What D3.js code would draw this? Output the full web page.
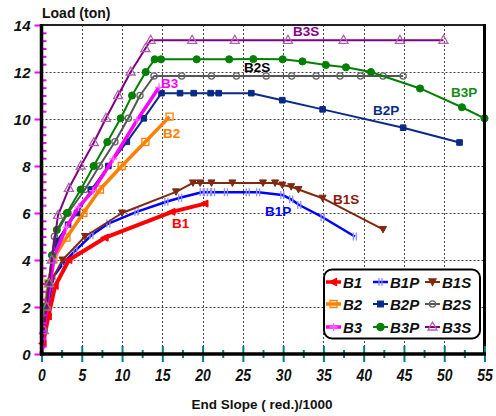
<!DOCTYPE html>
<html>
<head>
<meta charset="utf-8">
<script src="https://cdn.jsdelivr.net/npm/d3@7"></script>
<style>
  body { margin: 0; background: #fff; }
  svg { display: block; font-family: Arial, "Liberation Sans", sans-serif; }
</style>
</head>
<body>
<svg id="chart" width="496" height="416"></svg>
<script>
// Load (ton) against end slope (rad/1000) for the nine test beams
const seriesNames = ["B1", "B1P", "B1S", "B2", "B2P", "B2S", "B3", "B3P", "B3S"];

const B1 = [[0,0],[0.2,0.45],[0.85,1.6],[1.7,2.9],[3.4,4.0],[7.9,4.95],[16.2,6.05],[20.3,6.4]];
const B1P = [[0,0],[0.45,1.0],[0.9,2.2],[1.5,3.3],[2.8,3.9],[4.2,4.4],[6.2,5.05],[8.3,5.55],[11.8,6.05],[15.5,6.48],[17.2,6.65],[19.9,6.88],[20.4,6.88],[20.8,6.88],[21.3,6.88],[22.9,6.88],[25.6,6.88],[26.9,6.88],[29.9,6.77],[31.0,6.58],[32.0,6.34],[34.9,5.82],[38.9,5.0]];
const B1S = [[0,0],[0.6,1.9],[1.2,3.1],[2.6,4.0],[5.4,5.0],[10.0,6.0],[16.7,6.9],[18.8,7.28],[19.7,7.28],[21.1,7.28],[23.7,7.28],[27.5,7.28],[29.0,7.28],[29.9,7.19],[31.0,7.12],[31.9,7.0],[34.9,6.63],[42.4,5.3]];
const B2 = [[0,0],[0.43,2.0],[0.85,3.0],[1.47,4.05],[3.1,4.95],[5.2,6.0],[7.26,7.0],[9.96,8.0],[12.9,9.03],[15.9,10.1]];
const B2P = [[0,0],[0.5,2.0],[0.9,3.0],[1.9,4.8],[3.3,5.5],[4.4,6.0],[6.2,7.0],[8.3,8.0],[10.6,9.03],[12.7,10.03],[14.9,11.1],[17.2,11.1],[18.9,11.1],[21.0,11.1],[22.0,11.1],[26.05,11.1],[29.9,10.8],[34.9,10.41],[44.9,9.63],[51.9,9.0]];
const B2S = [[0,0],[0.35,1.0],[0.9,3.0],[1.6,5.0],[3.3,6.0],[5.4,7.0],[7.18,8.0],[9.12,9.03],[10.78,10.03],[12.23,11.0],[13.97,11.83],[17.4,11.83],[21.1,11.83],[24.2,11.83],[27.9,11.83],[31.06,11.83],[34.1,11.83],[37.06,11.83],[39.6,11.83],[42.4,11.83],[44.9,11.83]];
const B3 = [[0,0],[0.6,2.0],[1.1,3.0],[1.6,4.2],[3.1,5.4],[4.6,6.25],[6.4,6.95],[8.9,8.3],[11.86,9.95],[14.6,11.35]];
const B3P = [[0,0],[0.5,2.0],[0.9,3.0],[1.3,4.2],[1.9,5.28],[3.15,6.0],[4.87,7.0],[6.48,8.0],[8.17,9.02],[9.83,10.03],[11.24,11.0],[12.94,12.0],[14.05,12.54],[14.84,12.54],[19.27,12.54],[23.3,12.54],[26.3,12.55],[29.94,12.54],[32.4,12.45],[35.3,12.3],[37.8,12.2],[40.9,12.0],[47.0,11.3],[52.2,10.5],[55.0,10.03]];
const B3S = [[0,0],[0.3,1.0],[0.64,2.0],[0.97,3.0],[1.27,4.0],[2.05,5.9],[3.4,7.05],[4.87,8.0],[6.5,9.0],[8.0,10.03],[9.5,11.0],[11.07,12.0],[12.9,13.0],[13.55,13.35],[18.7,13.35],[24.0,13.35],[30.6,13.35],[37.5,13.35],[44.5,13.35],[49.9,13.35]];

const xTicks = d3.range(0, 55.01, 2.5);
const xLabels = [0, 5, 10, 15, 20, 25, 30, 35, 40, 45, 50, 55];
const yTicks = d3.range(0, 42.01, 1).map(k => k / 3);
const yLabels = [0, 2, 4, 6, 8, 10, 12, 14];
const xGrid = [5, 10, 15, 20, 25, 30, 35, 40, 45, 50];
const yGrid = [2, 4, 6, 8, 10, 12];

// series styling: line colour, width, marker kind, marker colour
const style = {
  B1:  { data: B1,  color: "#ff0000", width: 4,   marker: "triLeft", mcolor: "#ff0000", fill: true },
  B1P: { data: B1P, color: "#0000ff", width: 2.5, marker: "bars",    mcolor: "#8c8cff", fill: false },
  B1S: { data: B1S, color: "#7f2a10", width: 2,   marker: "triDown", mcolor: "#7f2a10", fill: true },
  B2:  { data: B2,  color: "#ff8000", width: 3.5, marker: "square",  mcolor: "#ff8000", fill: false },
  B2P: { data: B2P, color: "#0a2a88", width: 2,   marker: "sqSmall", mcolor: "#0a2a88", fill: true },
  B2S: { data: B2S, color: "#555555", width: 2,   marker: "circle",  mcolor: "#666666", fill: false },
  B3:  { data: B3,  color: "#ff00ff", width: 3.5, marker: "plus",    mcolor: "#ff66ff", fill: false },
  B3P: { data: B3P, color: "#008000", width: 2,   marker: "dot",     mcolor: "#008000", fill: true },
  B3S: { data: B3S, color: "#800080", width: 2,   marker: "triUp",   mcolor: "#b060b0", fill: false }
};

const tags = [
  { name: "B3S", x: 293, y: 36,  color: "#8a008a" },
  { name: "B2S", x: 244, y: 72,  color: "#000000" },
  { name: "B3P", x: 451, y: 97,  color: "#148c14" },
  { name: "B2P", x: 373, y: 115, color: "#0a2a88" },
  { name: "B3",  x: 161, y: 88,  color: "#ff00ff" },
  { name: "B2",  x: 163, y: 138, color: "#ff8000" },
  { name: "B1S", x: 333, y: 204, color: "#8b1a10" },
  { name: "B1P", x: 265, y: 216, color: "#0000ff" },
  { name: "B1",  x: 172, y: 228, color: "#ff0000" }
];

const svg = d3.select("#chart");
const x = d3.scaleLinear().domain([0, 55]).range([41.5, 484.5]);
const y = d3.scaleLinear().domain([0, 14]).range([354, 25]);

// dotted grid
const grid = svg.append("g").attr("stroke", "#444").attr("stroke-width", 1).attr("stroke-dasharray", "2,2");
grid.selectAll("line.v").data(xGrid).join("line").attr("class", "v")
  .attr("x1", d => Math.round(x(d)) + 0.5).attr("x2", d => Math.round(x(d)) + 0.5)
  .attr("y1", y(14)).attr("y2", y(0));
grid.selectAll("line.h").data(yGrid).join("line").attr("class", "h")
  .attr("x1", x(0)).attr("x2", x(55))
  .attr("y1", d => Math.round(y(d)) + 0.5).attr("y2", d => Math.round(y(d)) + 0.5);

function markerPath(kind) {
  switch (kind) {
    case "triLeft": return "M-4.5,0L3,-3.5L3,3.5Z";
    case "triDown": return "M-3.5,-3L3.5,-3L0,3.5Z";
    case "triUp":   return "M0,-5L4.5,3L-4.5,3Z";
    case "square":  return "M-3.5,-3.5H3.5V3.5H-3.5Z";
    case "sqSmall": return "M-2.8,-2.8H2.8V2.8H-2.8Z";
    case "bars":    return "M-1.5,-4V4M1.5,-4V4";
    case "plus":    return "M-4,0H4M0,-4V4";
    case "circle":  return d3.symbol(d3.symbolCircle, 30)();
    case "dot":     return d3.symbol(d3.symbolCircle, 40)();
  }
}

const line = d3.line().x(d => x(d[0])).y(d => y(d[1]));

// draw curves, bottom series first so the upper ones sit on top
const order = ["B1P", "B1S", "B1", "B2", "B2S", "B2P", "B3", "B3P", "B3S"];
order.forEach(name => {
  const s = style[name];
  const g = svg.append("g");
  g.append("path").datum(s.data).attr("d", line)
    .attr("fill", "none").attr("stroke", s.color).attr("stroke-width", s.width)
    .attr("stroke-linejoin", "round");
  g.selectAll("path.m").data(s.data.slice(1)).join("path").attr("class", "m")
    .attr("d", markerPath(s.marker))
    .attr("transform", d => `translate(${x(d[0])},${y(d[1])})`)
    .attr("fill", s.fill ? s.mcolor : "none")
    .attr("stroke", s.mcolor).attr("stroke-width", s.fill ? 1 : 1.3);
});

// series tags
svg.append("g").selectAll("text").data(tags).join("text")
  .attr("x", d => d.x).attr("y", d => d.y).attr("fill", d => d.color)
  .attr("font-size", 13.5).attr("font-weight", "bold").text(d => d.name);

// frame
svg.append("line").attr("x1", x(0)).attr("x2", x(55)).attr("y1", y(14)).attr("y2", y(14))
  .attr("stroke", "#222").attr("stroke-width", 2);
svg.append("line").attr("x1", x(55)).attr("x2", x(55)).attr("y1", y(14) - 1).attr("y2", y(0))
  .attr("stroke", "#000").attr("stroke-width", 3);

// y axis: magenta ticks, long ones outside at labelled values, short ones inside
const yAxis = d3.axisLeft(y).tickValues(yTicks).tickSizeOuter(0)
  .tickFormat(d => yLabels.some(v => Math.abs(v - d) < 1e-6) ? d3.format("d")(Math.round(d)) : "");
const gy = svg.append("g").attr("transform", `translate(${x(0)},0)`).call(yAxis);
gy.select(".domain").remove();
gy.selectAll(".tick line")
  .attr("stroke", "#ff00ff").attr("stroke-width", 2)
  .attr("x1", d => yLabels.some(v => Math.abs(v - d) < 1e-6) ? -7 : 1)
  .attr("x2", d => yLabels.some(v => Math.abs(v - d) < 1e-6) ? 0 : 5);
gy.selectAll(".tick text")
  .attr("x", -11).attr("dy", "0.36em")
  .attr("font-size", 15).attr("font-style", "italic").attr("font-weight", "bold")
  .attr("fill", "#111").attr("font-family", "Arial, 'Liberation Sans', sans-serif");

// x axis: teal ticks crossing the axis line
const xAxis = d3.axisBottom(x).tickValues(xTicks).tickSizeOuter(0)
  .tickFormat(d => xLabels.includes(d) ? d3.format("d")(d) : "");
const gx = svg.append("g").attr("transform", `translate(0,${y(0)})`).call(xAxis);
gx.select(".domain").remove();
gx.selectAll(".tick line")
  .attr("stroke", "#008080").attr("stroke-width", 2)
  .attr("y1", d => xLabels.includes(d) ? -8 : -4)
  .attr("y2", d => xLabels.includes(d) ? 8 : 4);
gx.selectAll(".tick text")
  .attr("y", 0).attr("dy", 0)
  .attr("transform", "translate(0,27) scale(1,1.2)")
  .attr("font-size", 14).attr("font-style", "italic").attr("font-weight", "bold")
  .attr("fill", "#111").attr("font-family", "Arial, 'Liberation Sans', sans-serif");

// thick left and bottom axis lines
svg.append("line").attr("x1", x(0)).attr("x2", x(0)).attr("y1", y(14) - 1).attr("y2", y(0) + 1.5)
  .attr("stroke", "#000").attr("stroke-width", 3.5);
svg.append("line").attr("x1", x(0) - 1.5).attr("x2", x(55) + 1.5).attr("y1", y(0)).attr("y2", y(0))
  .attr("stroke", "#000").attr("stroke-width", 3.5);

// axis titles
svg.append("text").attr("x", 42).attr("y", 18).attr("font-size", 14).attr("font-weight", "bold")
  .attr("fill", "#111").text("Load (ton)");
svg.append("text").attr("x", 262).attr("y", 409).attr("text-anchor", "middle")
  .attr("font-size", 13.5).attr("font-weight", "bold").attr("fill", "#111")
  .text("End Slope ( red.)/1000");

// legend: rows B1.., B2.., B3..; columns plain, P, S
const legend = svg.append("g");
legend.append("rect").attr("x", 324).attr("y", 269.5).attr("width", 156).attr("height", 69)
  .attr("rx", 8).attr("fill", "#fff").attr("stroke", "#000").attr("stroke-width", 2);
const colX = [326, 373, 425];
const rowY = [282, 304, 327];
const legendItems = seriesNames.map((name, i) => ({ name, row: Math.floor(i / 3), col: i % 3 }));
const li = legend.selectAll("g.item").data(legendItems).join("g").attr("class", "item")
  .attr("transform", d => `translate(${colX[d.col]},${rowY[d.row]})`);
li.append("line").attr("x1", 0).attr("x2", 15).attr("y1", 0).attr("y2", 0)
  .attr("stroke", d => style[d.name].color).attr("stroke-width", d => Math.min(style[d.name].width, 3.5));
li.append("path").attr("d", d => markerPath(style[d.name].marker))
  .attr("transform", "translate(7.5,0)")
  .attr("fill", d => style[d.name].fill ? style[d.name].mcolor : "none")
  .attr("stroke", d => style[d.name].mcolor).attr("stroke-width", 1.3);
li.append("text").attr("x", 17).attr("y", 6).attr("font-size", 15)
  .attr("font-style", "italic").attr("font-weight", "bold").attr("fill", "#111")
  .text(d => d.name);
</script>
</body>
</html>
